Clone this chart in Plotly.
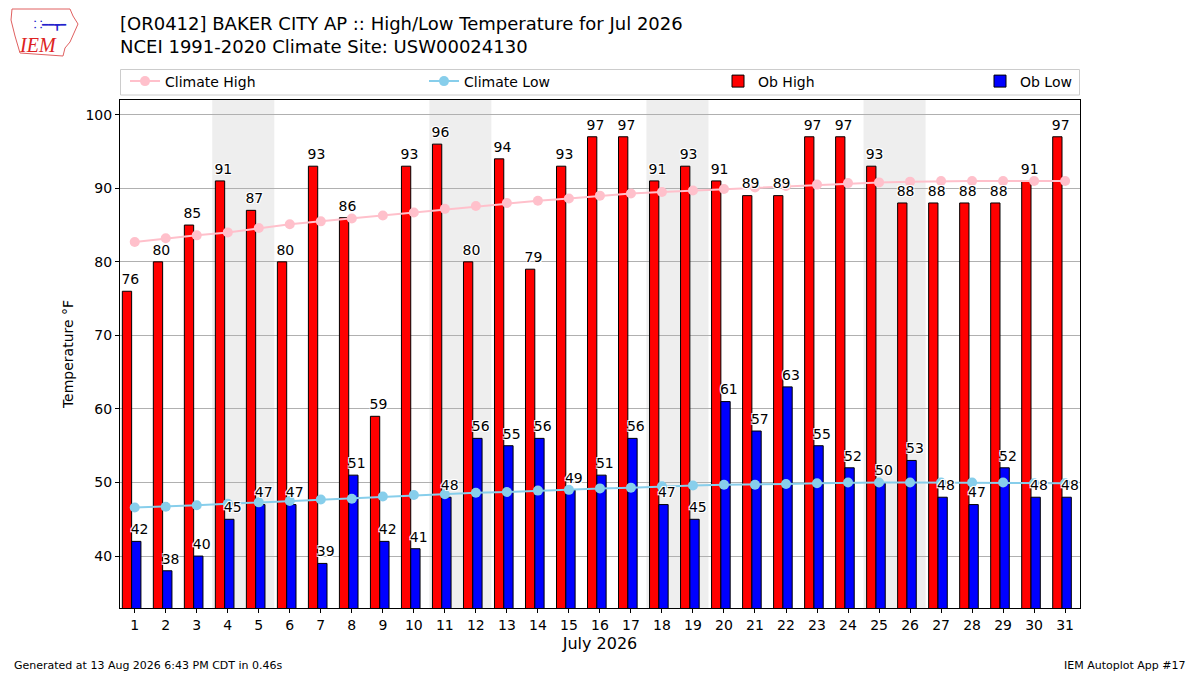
import numpy as np
import plotly.graph_objects as go

# dados do mes
days = list(range(1, 32))
ob_high = [76, 80, 85, 91, 87, 80, 93, 86, 59, 93, 96, 80, 94, 79, 93, 97,
           97, 91, 93, 91, 89, 89, 97, 97, 93, 88, 88, 88, 88, 91, 97]
ob_low = [42, 38, 40, 45, 47, 47, 39, 51, 42, 41, 48, 56, 55, 56, 49, 51,
          56, 47, 45, 61, 57, 63, 55, 52, 50, 53, 48, 47, 52, 48, 48]
climate_high = [82.7, 83.2, 83.6, 84.0, 84.6, 85.1, 85.5, 85.9, 86.3, 86.7,
                87.2, 87.6, 88.0, 88.3, 88.6, 89.0, 89.3, 89.5, 89.7, 89.9,
                90.1, 90.3, 90.5, 90.7, 90.8, 90.9, 91.0, 91.0, 91.0, 91.0, 91.0]
climate_low = [46.6, 46.7, 46.9, 47.1, 47.3, 47.5, 47.7, 47.8, 48.1, 48.3,
               48.4, 48.6, 48.7, 48.9, 49.0, 49.2, 49.3, 49.5, 49.6, 49.7,
               49.7, 49.8, 49.9, 50.0, 50.0, 50.0, 50.0, 50.0, 50.0, 49.9, 49.9]
weekends = [4, 11, 18, 25]  # sabados (sab+dom sombreados)
yticks = [40, 50, 60, 70, 80, 90, 100]

FONT = "DejaVu Sans"
halo = "1px 1px 0 white, -1px -1px 0 white, 1px -1px 0 white, -1px 1px 0 white"


# pixel da pagina -> coordenadas paper (area do grafico 120..1080 x 100..608)
def px(x):
    return (x - 120) / 960


def py(y):
    return (608 - y) / 508


d = np.array(days)
fig = go.Figure()

fig.add_trace(go.Bar(x=days, y=ob_high, width=0.3, offset=-0.4, name="Ob High",
                     marker=dict(color="#ff0000", line=dict(color="black", width=1)),
                     legend="legend3"))
fig.add_trace(go.Bar(x=days, y=ob_low, width=0.3, offset=-0.1, name="Ob Low",
                     marker=dict(color="#0000ff", line=dict(color="black", width=1)),
                     legend="legend4"))
fig.add_trace(go.Scatter(x=days, y=climate_high, mode="lines+markers", name="Climate High",
                         line=dict(color="pink", width=2), marker=dict(size=10, color="pink"),
                         legend="legend"))
fig.add_trace(go.Scatter(x=days, y=climate_low, mode="lines+markers", name="Climate Low",
                         line=dict(color="skyblue", width=2), marker=dict(size=10, color="skyblue"),
                         legend="legend2"))

# rotulos
fig.add_trace(go.Scatter(x=d - 0.43, y=np.array(ob_high) + 0.5, mode="text",
                         text=[str(v) for v in ob_high],
                         textposition="top right", showlegend=False, hoverinfo="skip",
                         textfont=dict(family=FONT, size=14, color="black", shadow=halo)))
fig.add_trace(go.Scatter(x=d - 0.13, y=np.array(ob_low) + 0.5, mode="text",
                         text=[str(v) for v in ob_low],
                         textposition="top right", showlegend=False, hoverinfo="skip",
                         textfont=dict(family=FONT, size=14, color="black", shadow=halo)))

# fins de semana
for w in weekends:
    fig.add_shape(type="rect", xref="x", yref="paper", x0=w - 0.5, x1=w + 1.5, y0=0, y1=1,
                  fillcolor="#eeeeee", line=dict(width=0), layer="below")

# caixa da legenda
fig.add_shape(type="rect", xref="paper", yref="paper", x0=px(120.5), x1=px(1079.5),
              y0=py(95), y1=py(69.5),
              line=dict(color="#cccccc", width=1), fillcolor="white", layer="below")

leg = dict(orientation="h", yanchor="middle", y=py(81.5), xanchor="left",
           bgcolor="rgba(0,0,0,0)", font=dict(family=FONT, size=14, color="black"))
fig.update_layout(
    legend=dict(leg, x=px(125)),
    legend2=dict(leg, x=px(424)),
    legend3=dict(leg, x=px(718)),
    legend4=dict(leg, x=px(980)),
)

fig.update_layout(
    width=1192, height=667,
    margin=dict(l=112, r=120, t=92, b=67),
    paper_bgcolor="white", plot_bgcolor="white",
    barmode="overlay",
    font=dict(family=FONT, size=14, color="black"),
    title=dict(text="[OR0412] BAKER CITY AP :: High/Low Temperature for Jul 2026<br>"
                    "NCEI 1991-2020 Climate Site: USW00024130",
               x=112 / 1192, xanchor="left", y=1 - 22 / 667, yanchor="middle",
               font=dict(family=FONT, size=18, color="black")),
    showlegend=True,
)

fig.update_xaxes(range=[0.525, 31.48], tickvals=days, ticktext=[str(v) for v in days],
                 showgrid=False, zeroline=False, showline=True, linecolor="black", linewidth=1,
                 mirror=True, ticks="outside", ticklen=4, tickcolor="black",
                 tickfont=dict(family=FONT, size=14),
                 title=dict(text="July 2026", font=dict(family=FONT, size=16), standoff=6))
fig.update_yaxes(range=[32.94, 102.0], tickvals=yticks, showgrid=True, gridcolor="#b0b0b0",
                 gridwidth=1, zeroline=False, showline=True, linecolor="black", linewidth=1,
                 mirror=True, ticks="outside", ticklen=4, tickcolor="black",
                 tickfont=dict(family=FONT, size=14),
                 title=dict(text="Temperature °F", font=dict(family=FONT, size=14), standoff=8))

# logo (aproximado)
fig.add_shape(type="path", xref="paper", yref="paper",
              path="M {} {} L {} {} L {} {} L {} {} L {} {} L {} {} L {} {} L {} {} L {} {} L {} {} L {} {} Z".format(
                  px(12), py(9), px(70), py(9), px(73), py(16), px(78), py(24), px(74), py(33),
                  px(70), py(42), px(65), py(48), px(63), py(56), px(20), py(53), px(15), py(36),
                  px(11), py(20)),
              line=dict(color="#e06060", width=1))
fig.add_annotation(text="<i>IEM</i>", xref="paper", yref="paper", x=px(38), y=py(45),
                   xanchor="center", yanchor="middle", showarrow=False,
                   font=dict(family="Liberation Serif", size=20, color="#dd2222"))
fig.add_annotation(text="<b>⸬━━┳━</b>", xref="paper", yref="paper", x=px(50), y=py(25),
                   xanchor="center", yanchor="middle", showarrow=False,
                   font=dict(family=FONT, size=10, color="#2222cc"))

# rodape
fig.add_annotation(text="Generated at 13 Aug 2026 6:43 PM CDT in 0.46s", xref="paper", yref="paper",
                   x=px(12), y=py(665), xanchor="left", yanchor="middle",
                   showarrow=False, font=dict(family=FONT, size=11, color="black"))
fig.add_annotation(text="IEM Autoplot App #17", xref="paper", yref="paper",
                   x=px(1188), y=py(665), xanchor="right", yanchor="middle",
                   showarrow=False, font=dict(family=FONT, size=11, color="black"))

fig.write_html("out.html")
